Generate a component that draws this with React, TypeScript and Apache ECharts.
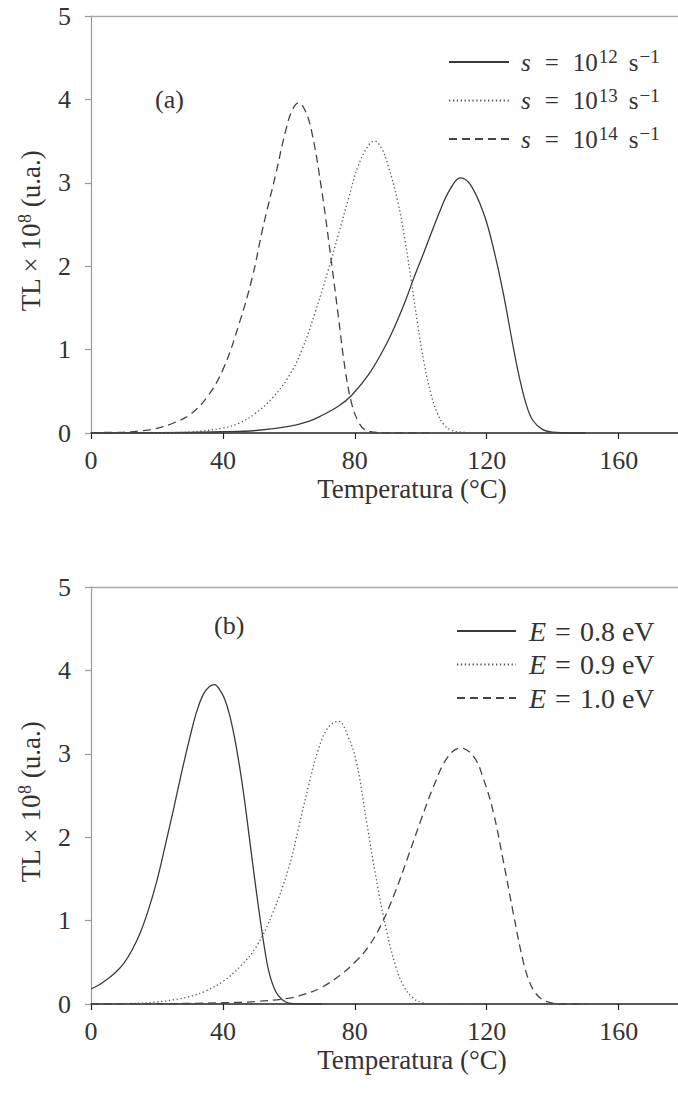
import React, { useEffect, useRef } from "react";
import * as echarts from "echarts";

// ---------- data ----------
const xTicks = [0, 40, 80, 120, 160];
const yTicks = [0, 1, 2, 3, 4, 5];

// Panel (a): frequency factor s
const aS12T = [0, 20, 40, 50, 60, 66, 70, 75, 79, 84, 88, 91, 95, 98, 101, 106, 109, 112, 115, 119, 122, 125, 128, 130, 132, 134, 137, 140, 145, 150];
const aS12V = [0, 0.003, 0.015, 0.03, 0.08, 0.14, 0.21, 0.32, 0.45, 0.69, 0.95, 1.18, 1.55, 1.87, 2.17, 2.68, 2.93, 3.06, 2.98, 2.64, 2.22, 1.68, 1.04, 0.65, 0.34, 0.15, 0.04, 0.01, 0, 0];

const aS13T = [0, 20, 30, 40, 45, 50, 55, 60, 64, 68, 72, 75, 78, 81, 84, 86, 88, 90, 93, 95, 97, 99, 101, 103, 105, 107, 109, 112, 120, 130];
const aS13V = [0, 0.003, 0.012, 0.06, 0.12, 0.24, 0.42, 0.68, 1.0, 1.45, 1.96, 2.38, 2.8, 3.2, 3.44, 3.5, 3.42, 3.22, 2.78, 2.36, 1.86, 1.32, 0.84, 0.48, 0.24, 0.1, 0.04, 0.01, 0, 0];

const aS14T = [0, 10, 15, 20, 25, 30, 35, 40, 45, 49, 52, 56, 59, 61, 63, 65, 67, 70, 73, 75, 77, 79, 81, 83, 86, 90, 104];
const aS14V = [0.005, 0.01, 0.025, 0.055, 0.12, 0.22, 0.42, 0.76, 1.32, 1.88, 2.44, 3.1, 3.62, 3.87, 3.96, 3.86, 3.6, 2.9, 2.02, 1.4, 0.78, 0.36, 0.14, 0.04, 0.01, 0, 0];

// Panel (b): activation energy E
const bE08T = [0, 2.5, 5, 7.5, 10, 12.5, 15, 17.5, 20, 22.5, 25, 27.5, 30, 32, 34, 36, 37.5, 39, 40.5, 42, 43.5, 45, 46.5, 48, 49.5, 51, 52.5, 54, 56, 58, 60, 63, 70];
const bE08V = [0.18, 0.23, 0.3, 0.38, 0.49, 0.65, 0.86, 1.14, 1.48, 1.9, 2.33, 2.78, 3.2, 3.5, 3.71, 3.81, 3.83, 3.77, 3.66, 3.47, 3.2, 2.86, 2.46, 2.0, 1.54, 1.1, 0.7, 0.38, 0.15, 0.05, 0.01, 0, 0];

const bE09T = [0, 15, 20, 25, 30, 35, 40, 45, 50, 55, 60, 63, 66, 69, 72, 75, 78, 80.5, 83.5, 86.5, 89.5, 92.5, 95, 97.5, 100, 105, 121];
const bE09V = [0, 0.01, 0.025, 0.05, 0.09, 0.16, 0.27, 0.44, 0.68, 1.08, 1.64, 2.12, 2.62, 3.06, 3.32, 3.39, 3.2, 2.9, 2.2, 1.5, 0.9, 0.44, 0.2, 0.08, 0.02, 0, 0];

const bE10T = [0, 20, 40, 50, 60, 65, 70, 76, 80, 84, 88, 92, 96, 100, 104, 108, 112, 116, 119, 122, 125, 128, 131, 133, 135, 137, 139, 141, 145, 150];
const bE10V = [0, 0.003, 0.015, 0.03, 0.07, 0.12, 0.2, 0.36, 0.5, 0.68, 0.95, 1.32, 1.75, 2.2, 2.62, 2.95, 3.07, 2.97, 2.7, 2.3, 1.72, 1.1, 0.52, 0.26, 0.12, 0.05, 0.02, 0.005, 0, 0];

const legendA = ["s12", "s13", "s14"];
const legendAExp = ["12", "13", "14"];
const legendB = ["E08", "E09", "E10"];
const legendBVal = ["0.8", "0.9", "1.0"];

const zip = (t: number[], v: number[]) => t.map((x, i) => [x, v[i]]);

const SERIF = "'Liberation Serif', 'Times New Roman', serif";

const solid = { color: "#3a3a3a", width: 1.3, type: "solid" as const };
const dotted = { color: "#555", width: 1.3, type: [1.3, 2.6] as any, cap: "butt" as const };
const dashed = { color: "#444", width: 1.3, type: [8, 5] as any };

export default function App() {
  const ref = useRef<HTMLDivElement>(null);
  useEffect(() => {
    if (!ref.current) return;
    const chart = echarts.init(ref.current, null, { renderer: "svg" });

    const gridTops = [16, 587];
    const gridH = 417;

    const xAxes: any[] = [];
    const yAxes: any[] = [];
    gridTops.forEach((_, gi) => {
      xAxes.push({
        type: "value",
        gridIndex: gi,
        min: 0,
        max: 178,
        interval: 40,
        position: "bottom",
        axisLine: { show: true, onZero: false, lineStyle: { color: "#222", width: 1.5 } },
        axisTick: { show: true, inside: false, length: 6, customValues: xTicks, lineStyle: { color: "#222", width: 1.2 } },
        axisLabel: {
          show: true,
          customValues: xTicks,
          margin: 14,
          fontFamily: SERIF,
          fontSize: 26,
          color: "#333",
        },
        splitLine: { show: false },
      });
      xAxes.push({
        type: "value",
        gridIndex: gi,
        min: 0,
        max: 178,
        position: "top",
        axisLine: { show: true, onZero: false, lineStyle: { color: "#aaa", width: 1.3 } },
        axisTick: { show: false },
        axisLabel: { show: false },
        splitLine: { show: false },
      });
      yAxes.push({
        type: "value",
        gridIndex: gi,
        min: 0,
        max: 5,
        interval: 1,
        axisLine: { show: true, onZero: false, lineStyle: { color: "#999", width: 1.2 } },
        axisTick: { show: true, length: 6, lineStyle: { color: "#999", width: 1.2 } },
        axisLabel: {
          margin: 20,
          fontFamily: SERIF,
          fontSize: 26,
          color: "#333",
          customValues: yTicks,
        },
        splitLine: { show: false },
      });
    });

    const mk = (name: string, data: number[][], ls: any, gi: number) => ({
      name,
      type: "line",
      xAxisIndex: gi * 2,
      yAxisIndex: gi,
      data,
      symbol: "none",
      showSymbol: false,
      smooth: 0.4,
      lineStyle: ls,
      itemStyle: { color: ls.color },
      z: 3,
    });

    const series = [
      mk("s12", zip(aS12T, aS12V), solid, 0),
      mk("s13", zip(aS13T, aS13V), dotted, 0),
      mk("s14", zip(aS14T, aS14V), dashed, 0),
      mk("E08", zip(bE08T, bE08V), solid, 1),
      mk("E09", zip(bE09T, bE09V), dotted, 1),
      mk("E10", zip(bE10T, bE10V), dashed, 1),
    ];

    const base = { fontFamily: SERIF, color: "#333", lineHeight: 30, verticalAlign: "middle" };
    const richA = {
      i: { ...base, fontStyle: "italic", fontSize: 25 },
      eq: { ...base, fontSize: 25, padding: [0, 14, 0, 14] },
      n: { ...base, fontSize: 25 },
      sup: { fontFamily: SERIF, fontSize: 19, color: "#333", lineHeight: 19, verticalAlign: "top", padding: [0, 0, 0, 1] },
      sp: { ...base, fontSize: 25, padding: [0, 0, 0, 11] },
    };
    const richB = {
      i: { ...base, fontStyle: "italic", fontSize: 28 },
      eq: { ...base, fontSize: 28, padding: [0, 9, 0, 9] },
      n: { ...base, fontSize: 28 },
    };

    const option: any = {
      animation: false,
      backgroundColor: "#fff",
      grid: gridTops.map((t) => ({ left: 91, right: 0, top: t, height: gridH, containLabel: false })),
      xAxis: xAxes,
      yAxis: yAxes,
      legend: [
        {
          data: legendA,
          orient: "vertical",
          left: 448,
          top: 47,
          padding: 0,
          itemWidth: 60,
          itemHeight: 14,
          itemGap: 11,
          selectedMode: false,
          itemStyle: { opacity: 0 },
          textStyle: { padding: [0, 0, 0, 7], rich: richA },
          formatter: (name: string) => {
            const e = legendAExp[legendA.indexOf(name)];
            return `{i|s}{eq|=}{n|10}{sup|${e}}{sp|s}{sup|−1}`;
          },
        },
        {
          data: legendB,
          orient: "vertical",
          left: 456,
          top: 617,
          padding: 0,
          itemWidth: 59,
          itemHeight: 14,
          itemGap: 5.5,
          selectedMode: false,
          itemStyle: { opacity: 0 },
          textStyle: { padding: [0, 0, 0, 8], rich: richB },
          formatter: (name: string) => {
            const v = legendBVal[legendB.indexOf(name)];
            return `{i|E}{eq|=}{n|${v} eV}`;
          },
        },
      ],
      graphic: [
        {
          type: "text",
          left: 155,
          top: 86,
          style: { text: "(a)", font: `26px ${SERIF}`, fill: "#333" },
        },
        {
          type: "text",
          left: 214,
          top: 612,
          style: { text: "(b)", font: `26px ${SERIF}`, fill: "#333" },
        },
        ...[0, 571].map((dy) => ({
          type: "text",
          x: 412,
          y: 489 + dy,
          style: {
            text: "Temperatura (°C)",
            font: `27px ${SERIF}`,
            fill: "#333",
            textAlign: "center",
            textVerticalAlign: "middle",
          },
        })),
        ...[0, 571].map((dy) => ({
          type: "text",
          x: 31,
          y: 231 + dy,
          rotation: Math.PI / 2,
          style: {
            text: "{a|TL × 10}{s|8}{a| (u.a.)}",
            textAlign: "center",
            textVerticalAlign: "middle",
            rich: {
              a: { fontFamily: SERIF, fontSize: 27, fill: "#333", color: "#333", lineHeight: 30, verticalAlign: "middle" },
              s: { fontFamily: SERIF, fontSize: 18, fill: "#333", color: "#333", lineHeight: 18, verticalAlign: "top" },
            },
          },
        })),
      ],
      series,
    };
    chart.setOption(option);
    return () => chart.dispose();
  }, []);

  return (
    <div
      ref={ref}
      style={{ position: "absolute", left: 0, top: 0, width: 678, height: 1097, background: "#fff" }}
    />
  );
}
